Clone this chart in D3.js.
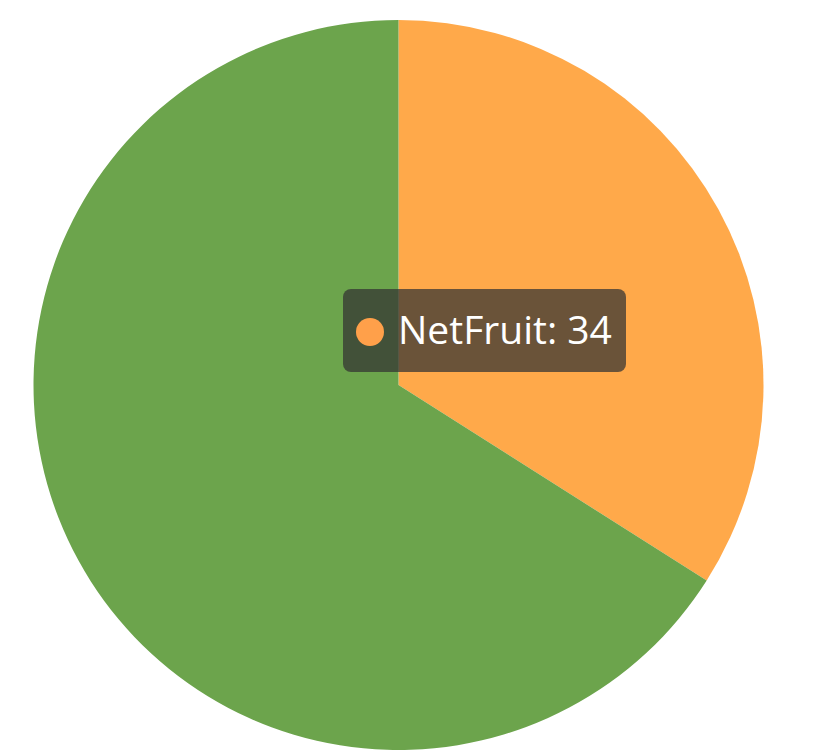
<!DOCTYPE html>
<html>
<head>
<meta charset="utf-8">
<script src="https://cdn.jsdelivr.net/npm/d3@7"></script>
<style>
html,body{margin:0;padding:0;background:#fff;}
svg{display:block;}
</style>
</head>
<body>
<svg id="chart" width="816" height="754"></svg>
<script>
const categories = ["NetFruit", "Others"];
const values = [34, 66];
const colors = ["#FFA94A", "#6CA44C"];
const tooltipIndex = 0;

const W = 816, H = 754;
const cx = 398.5, cy = 385, R = 365;
const svg = d3.select("#chart");
const g = svg.append("g").attr("transform", `translate(${cx},${cy})`);

const data = categories.map((c, i) => ({ name: c, value: values[i], color: colors[i] }));
const pie = d3.pie().value(d => d.value).sort(null);
const arc = d3.arc().innerRadius(0).outerRadius(R);

g.selectAll("path").data(pie(data)).join("path")
  .attr("d", arc)
  .attr("fill", d => d.data.color);

// tooltip
const d0 = data[tooltipIndex];
const tip = svg.append("g").attr("transform", "translate(343,289)");
tip.append("rect").attr("width", 283).attr("height", 83).attr("rx", 8).attr("ry", 8)
  .attr("fill", "rgba(51,51,51,0.73)");
tip.append("circle").attr("cx", 27).attr("cy", 43).attr("r", 14).attr("fill", "#FFA04A");
const txt = tip.append("text").attr("x", 55).attr("y", 55)
  .attr("fill", "#fff")
  .style("font-family", "'Open Sans', 'Noto Sans', sans-serif")
  .style("font-size", "39px")
  .text(`${d0.name}: ${d0.value}`);
</script>
</body>
</html>
